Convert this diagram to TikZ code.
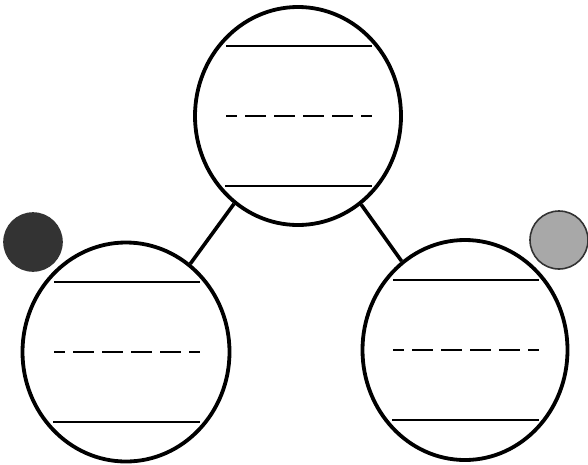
\documentclass[tikz,border=0pt]{standalone}
\usetikzlibrary{shapes.geometric}
\definecolor{darkdot}{HTML}{333333}
\definecolor{greydot}{HTML}{A8A8A8}
\begin{document}
\begin{tikzpicture}[x=1pt,y=-1pt,
  disc/.style={ellipse,draw,line width=3.8pt,inner sep=0pt,fill=white},
  rule/.style={line width=2.8pt},
  dashrule/.style={line width=2.8pt,dash pattern=on 21pt off 8pt,dash phase=10pt},
  conn/.style={line width=3.6pt},
  dot/.style={circle,draw=black!80,line width=1.6pt,inner sep=0pt,minimum size=58pt}]
\useasboundingbox (0,0) rectangle (588,464);
\fill[white] (0,0) rectangle (588,464);
% discs
\node[disc,minimum width=206pt,minimum height=218pt] (T) at (298,116) {};
\node[disc,minimum width=207pt,minimum height=219pt] (L) at (126,352) {};
\node[disc,minimum width=205pt,minimum height=220pt] (R) at (465,350) {};
% connectors
\draw[conn] (T) -- (L);
\draw[conn] (T) -- (R);
% lines inside discs
\foreach \n in {T,L,R}{
  \draw[rule] ([shift={(-72,-70)}]\n.center) coordinate (\n a) -- ([shift={(74,-70)}]\n.center) coordinate (\n b);
  \draw[dashrule] ([shift={(-72,0)}]\n.center) coordinate (\n c) -- ([shift={(74,0)}]\n.center) coordinate (\n d);
  \draw[rule] ([shift={(-73,70)}]\n.center) coordinate (\n e) -- ([shift={(74,70)}]\n.center) coordinate (\n f);
}
% dots
\node[dot,fill=darkdot] (D1) at (33,242) {};
\node[dot,fill=greydot] (D2) at (559,240) {};
\end{tikzpicture}
\end{document}
